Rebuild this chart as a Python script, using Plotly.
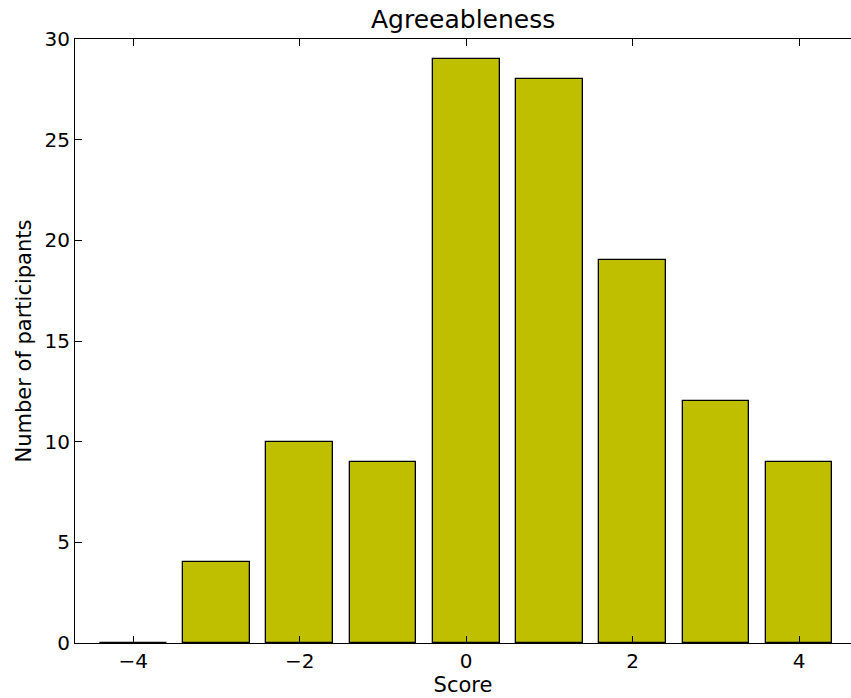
import plotly.graph_objects as go

# Agreeableness score distribution
scores = [-4, -3, -2, -1, 0, 1, 2, 3, 4]
participants = [0, 4, 10, 9, 29, 28, 19, 12, 9]
x_ticks = [-4, -2, 0, 2, 4]
x_tick_labels = ["\u22124", "\u22122", "0", "2", "4"]
y_ticks = [0, 5, 10, 15, 20, 25, 30]

FONT = "DejaVu Sans"

fig = go.Figure()
fig.add_trace(go.Bar(
    x=scores,
    y=participants,
    width=0.8,
    marker=dict(color="#bfbf00", line=dict(color="black", width=1.3)),
    hoverinfo="x+y",
))

fig.update_layout(
    width=851,
    height=698,
    margin=dict(l=75, r=0, t=39, b=55),
    paper_bgcolor="white",
    plot_bgcolor="white",
    font=dict(family=FONT, size=20, color="black"),
    showlegend=False,
    bargap=0,
    xaxis=dict(
        range=[-4.7, 4.623],
        tickvals=x_ticks,
        ticktext=x_tick_labels,
        ticks="inside",
        ticklen=7,
        tickwidth=1,
        tickcolor="black",
        showline=True,
        linecolor="black",
        linewidth=1.2,
        mirror="ticks",
        showgrid=False,
        zeroline=False,
        title=dict(text="Score", font=dict(size=21), standoff=3),
    ),
    yaxis=dict(
        range=[0, 30],
        tickvals=y_ticks,
        ticks="inside",
        ticklen=7,
        tickwidth=1,
        tickcolor="black",
        showline=True,
        linecolor="black",
        linewidth=1.2,
        mirror=False,
        showgrid=False,
        zeroline=False,
        title=dict(text="Number of participants", font=dict(size=21), standoff=7),
    ),
    yaxis2=dict(
        overlaying="y",
        side="right",
        range=[0, 30],
        tickvals=y_ticks,
        ticks="inside",
        ticklen=3,
        tickwidth=1,
        tickcolor="black",
        showticklabels=False,
        showline=False,
        showgrid=False,
        zeroline=False,
    ),
    annotations=[dict(
        text="Agreeableness",
        xref="paper", yref="paper",
        x=0.5, y=1,
        xanchor="center", yanchor="bottom",
        yshift=3,
        showarrow=False,
        font=dict(family=FONT, size=25, color="black"),
    )],
)

fig.write_html("out.html")
